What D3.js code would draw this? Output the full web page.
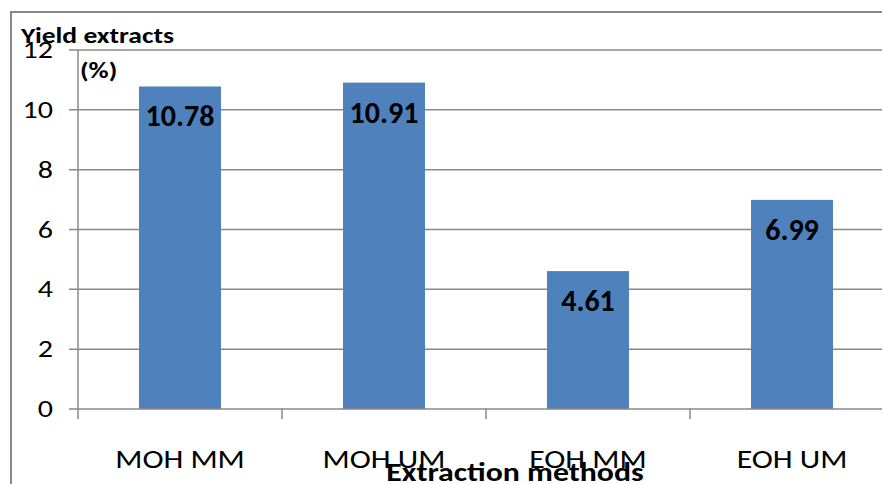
<!DOCTYPE html>
<html>
<head>
<meta charset="utf-8">
<title>Yield extracts</title>
<style>
  body { margin: 0; background: #fff; }
  text { font-family: Carlito, Calibri, 'Open Sans', sans-serif; fill: #000; }
</style>
<script src="https://d3js.org/d3.v7.min.js"></script>
</head>
<body>
<div id="container"></div>
<script>
  // ******* Data *******
  const methods = ["MOH MM", "MOH UM", "EOH MM", "EOH UM"];
  const yields = [10.78, 10.91, 4.61, 6.99];
  const yTicks = [0, 2, 4, 6, 8, 10, 12];

  // ******* Constants *******
  const width = 882,
        height = 484,
        margin = { top: 50, left: 78 };
  const plotRight = 894; // plot area runs past the right edge of the picture
  const gray = "#898989";
  const stretch = 1.2;   // the original text looks widened

  const svg = d3.select("#container").append("svg")
      .attr("width", width)
      .attr("height", height);

  // text helper: places a (horizontally stretched) label
  function label(x, y, str, size, bold, anchor, sx) {
    return svg.append("text")
        .attr("transform", `translate(${x},${y}) scale(${sx == null ? stretch : sx},1)`)
        .attr("text-anchor", anchor || "start")
        .style("font-size", size + "px")
        .style("font-weight", bold ? "bold" : "normal")
        .text(str);
  }

  // outer chart border (right and bottom are off-picture)
  svg.append("rect")
      .attr("x", 11).attr("y", 12)
      .attr("width", 920).attr("height", 520)
      .attr("fill", "none")
      .attr("stroke", gray)
      .attr("stroke-width", 2);

  const xScale = d3.scaleBand()
      .domain(methods)
      .range([margin.left, plotRight]);

  const yScale = d3.scaleLinear()
      .domain([0, 12])
      .range([409, margin.top]);

  // gridlines + y ticks
  svg.append("g")
      .selectAll("line")
      .data(yTicks.filter(d => d > 0))
      .join("line")
      .attr("x1", margin.left - 9)
      .attr("x2", plotRight)
      .attr("y1", d => yScale(d))
      .attr("y2", d => yScale(d))
      .attr("stroke", gray)
      .attr("stroke-width", 1.5);

  // y axis line
  svg.append("line")
      .attr("x1", margin.left).attr("x2", margin.left)
      .attr("y1", yScale(12)).attr("y2", yScale(0))
      .attr("stroke", gray).attr("stroke-width", 1.5);

  // y tick labels
  yTicks.forEach(d => label(53, yScale(d) + 8, d, 25, false, "end"));

  // bars
  const barW = 82;
  svg.append("g")
      .selectAll("rect")
      .data(yields)
      .join("rect")
      .attr("x", (d, i) => xScale(methods[i]) + xScale.bandwidth() / 2 - barW / 2)
      .attr("y", d => yScale(d))
      .attr("width", barW)
      .attr("height", d => yScale(0) - yScale(d))
      .attr("fill", "#4F81BD");

  // value labels
  yields.forEach((d, i) =>
    label(xScale(methods[i]) + xScale.bandwidth() / 2, yScale(d) + 40,
          d.toFixed(2), 30, true, "middle", 1));

  // x axis line with ticks between categories
  svg.append("line")
      .attr("x1", margin.left - 9).attr("x2", plotRight)
      .attr("y1", yScale(0)).attr("y2", yScale(0))
      .attr("stroke", gray).attr("stroke-width", 1.5);
  svg.append("g")
      .selectAll("line")
      .data(methods.concat([null]))
      .join("line")
      .attr("x1", (d, i) => margin.left + i * xScale.bandwidth())
      .attr("x2", (d, i) => margin.left + i * xScale.bandwidth())
      .attr("y1", yScale(0))
      .attr("y2", yScale(0) + 10)
      .attr("stroke", gray).attr("stroke-width", 1.5);

  // category labels
  methods.forEach(d =>
    label(xScale(d) + xScale.bandwidth() / 2, 468, d, 26.5, false, "middle"));

  // axis titles
  label(515, 481, "Extraction methods", 26.5, true, "middle");
  label(21, 43, "Yield extracts", 23, true);
  label(80, 78, "(%)", 23, true);
</script>
</body>
</html>
